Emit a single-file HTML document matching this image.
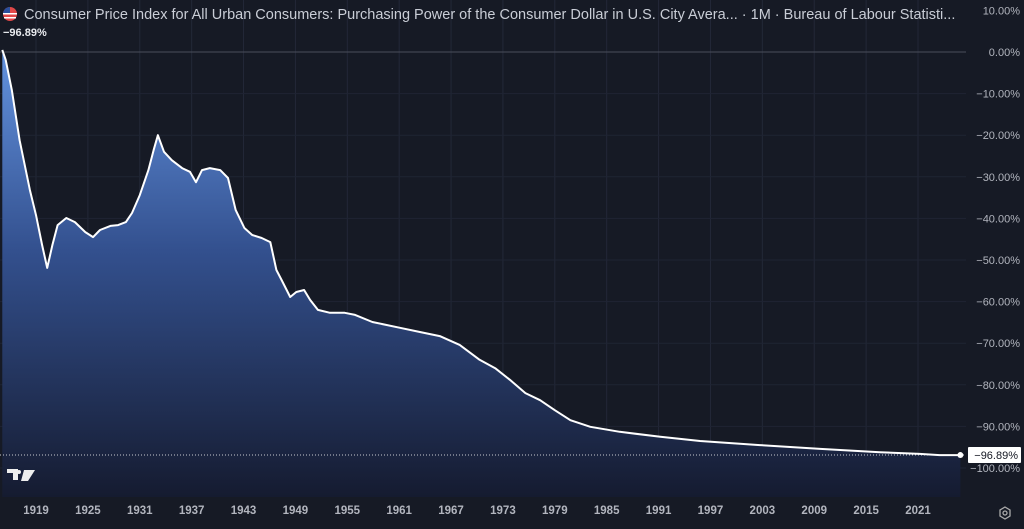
<!DOCTYPE html>
<html><head><meta charset="utf-8">
<style>
html,body{margin:0;padding:0;background:#161a25;}
body{width:1024px;height:524px;overflow:hidden;font-family:"Liberation Sans",sans-serif;}
</style></head>
<body>
<svg id="chart" width="1024" height="524" xmlns="http://www.w3.org/2000/svg">
<defs>
<linearGradient id="fillg" x1="0" y1="0" x2="0" y2="1">
<stop offset="0" stop-color="#6393e0"/>
<stop offset="0.45" stop-color="#33508e"/>
<stop offset="1" stop-color="#151b30"/>
</linearGradient>
</defs>
<rect x="0" y="0" width="1024" height="524" fill="#161a25"/>
<g id="grid"></g>
<g id="series"></g>
<g id="axes"></g>
<g>
<circle cx="10" cy="14" r="7" fill="#e04848"/>
<path d="M3 14 A7 7 0 0 1 10 7 V14 Z" fill="#2a4f9c"/>
<rect x="3" y="13" width="14" height="1.5" fill="#fff"/>
<rect x="4" y="17" width="12" height="1.5" fill="#fff"/>
<text x="24" y="19" fill="#c9cdd6" font-size="14.5">Consumer Price Index for All Urban Consumers: Purchasing Power of the Consumer Dollar in U.S. City Avera... · 1M · Bureau of Labour Statisti...</text>
<text x="3" y="36" fill="#e8eaee" font-size="11" font-weight="bold">−96.89%</text>
</g>
<g>
<path d="M7 469 H18 V480 H13 V473 H7 Z" fill="#eee"/>
<path d="M24 470 H35 L28 481 H21 Z" fill="#eee"/>
<circle cx="19" cy="472" r="2" fill="#eee"/>
</g>
<g>
<polygon points="1005,507 1010,510 1010,516 1005,519 1000,516 1000,510" fill="none" stroke="#aaa" stroke-width="1.3"/>
<circle cx="1005" cy="513" r="2" fill="none" stroke="#aaa" stroke-width="1.3"/>
</g>
</svg>
<script>
const years=[1915.1,1915.5,1916.2,1917.1,1918.3,1919.0,1919.7,1920.3,1920.9,1921.5,1922.5,1923.5,1924.7,1925.6,1926.4,1927.6,1928.5,1929.4,1930.1,1931.0,1932.0,1932.6,1933.1,1933.3,1933.8,1934.7,1935.9,1936.8,1937.5,1938.2,1939.1,1940.3,1941.2,1942.1,1943.1,1944.0,1945.1,1946.1,1946.8,1947.4,1948.4,1949.1,1950.0,1950.7,1951.6,1953.0,1954.7,1955.9,1957.9,1961.1,1963.4,1965.7,1968.0,1970.3,1972.1,1973.8,1975.6,1977.3,1979.0,1980.8,1983.1,1986.5,1991.2,1995.8,2002.7,2009.7,2016.6,2021.2,2023.5,2025.9];
const values=[0.5,-1.9,-9.1,-21.2,-33.2,-39.2,-46.4,-51.9,-46.4,-41.6,-39.9,-40.9,-43.3,-44.5,-42.8,-41.8,-41.6,-40.9,-38.7,-34.4,-28.4,-23.6,-20.0,-21.2,-24.0,-26.0,-27.9,-28.8,-31.3,-28.4,-27.9,-28.4,-30.3,-38.0,-42.3,-44.0,-44.7,-45.7,-52.4,-54.8,-58.9,-57.7,-57.2,-59.6,-62.0,-62.7,-62.7,-63.2,-64.9,-66.3,-67.3,-68.3,-70.4,-74.0,-76.0,-78.8,-82.0,-83.7,-86.1,-88.5,-90.1,-91.3,-92.5,-93.5,-94.5,-95.4,-96.2,-96.6,-96.9,-96.89];
const xTicks=[1919,1925,1931,1937,1943,1949,1955,1961,1967,1973,1979,1985,1991,1997,2003,2009,2015,2021];
const yTicks=[10,0,-10,-20,-30,-40,-50,-60,-70,-80,-90,-100];
const lastLabel="−96.89%";
const NS="http://www.w3.org/2000/svg";
const X=y=>36+(y-1919)*8.647;
const Y=v=>52-v*4.16;
const plotRight=966, plotBottom=497;
function mk(tag,attrs,parent){const e=document.createElementNS(NS,tag);for(const k in attrs)e.setAttribute(k,attrs[k]);parent.appendChild(e);return e;}
const grid=document.getElementById('grid'),series=document.getElementById('series'),axes=document.getElementById('axes');
xTicks.forEach(t=>{
  const l=mk('line',{x1:X(t),x2:X(t),y1:0,y2:plotBottom,stroke:'#232838','stroke-width':1},grid);
  
  
  const tx=mk('text',{x:X(t),y:514,fill:'#b2b5be','font-size':11.5,'font-weight':'bold','text-anchor':'middle'},axes);
  tx.textContent=t;
  
  
});
yTicks.forEach(t=>{
  if(t!==0&&t!==10){const l=mk('line',{x1:0,x2:plotRight,y1:Y(t),y2:Y(t),stroke:'#1f2433','stroke-width':1},grid);
  
  }
  const tx=mk('text',{x:1020,y:Y(t)+4,fill:'#b2b5be','font-size':11,'text-anchor':'end'},axes);
  tx.textContent=(t<0?'−':'')+Math.abs(t).toFixed(2)+'%';
  
  
});
const zl=mk('line',{x1:0,x2:plotRight,y1:Y(0),y2:Y(0),stroke:'#4a4e5a','stroke-width':1},grid);


let d='';years.forEach((y,i)=>{d+=(i?'L':'M')+X(y).toFixed(1)+' '+Y(values[i]).toFixed(1)+' ';});
const lastX=X(years[years.length-1]),lastY=Y(values[values.length-1]);
const area=mk('path',{d:d+'L'+lastX+' '+plotBottom+' L'+X(years[0])+' '+plotBottom+' Z',fill:'url(#fillg)'},series);


const dl=mk('line',{x1:0,x2:plotRight,y1:lastY,y2:lastY,stroke:'#c8cad0','stroke-width':1,'stroke-dasharray':'1 2'},series);


const line=mk('path',{d:d,fill:'none',stroke:'#ffffff','stroke-width':2,'stroke-linejoin':'round'},series);


const dot=mk('circle',{cx:lastX,cy:lastY,r:3,fill:'#fff'},series);


const box=mk('rect',{x:968,y:lastY-8,width:53,height:16,fill:'#fff',rx:1},axes);


const bt=mk('text',{x:1018,y:lastY+4,fill:'#131722','font-size':11,'text-anchor':'end'},axes);
bt.textContent=lastLabel;


</script>
</body></html>
